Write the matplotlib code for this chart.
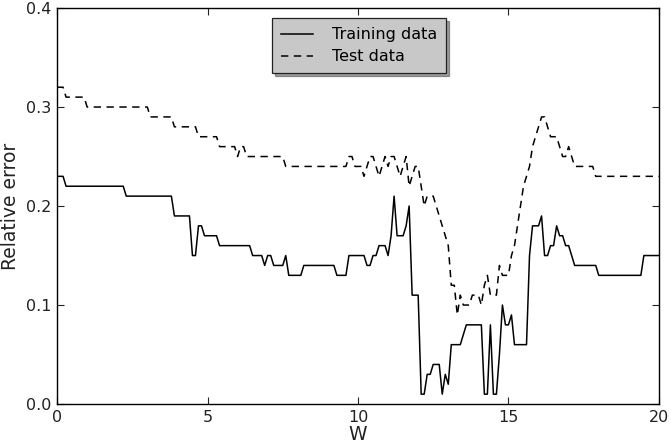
import numpy as np
import matplotlib
matplotlib.use("Agg")
import matplotlib.pyplot as plt

# W from 0 to 20 in steps of 0.1
w_values = np.linspace(0, 20, 201)

# relative error, one row per unit of W (x.0 .. x.9), last value is W = 20
train_error = [
    0.23, 0.23, 0.23, 0.22, 0.22, 0.22, 0.22, 0.22, 0.22, 0.22,
    0.22, 0.22, 0.22, 0.22, 0.22, 0.22, 0.22, 0.22, 0.22, 0.22,
    0.22, 0.22, 0.22, 0.21, 0.21, 0.21, 0.21, 0.21, 0.21, 0.21,
    0.21, 0.21, 0.21, 0.21, 0.21, 0.21, 0.21, 0.21, 0.21, 0.19,
    0.19, 0.19, 0.19, 0.19, 0.19, 0.15, 0.15, 0.18, 0.18, 0.17,
    0.17, 0.17, 0.17, 0.17, 0.16, 0.16, 0.16, 0.16, 0.16, 0.16,
    0.16, 0.16, 0.16, 0.16, 0.16, 0.15, 0.15, 0.15, 0.15, 0.14,
    0.15, 0.15, 0.14, 0.14, 0.14, 0.14, 0.15, 0.13, 0.13, 0.13,
    0.13, 0.13, 0.14, 0.14, 0.14, 0.14, 0.14, 0.14, 0.14, 0.14,
    0.14, 0.14, 0.14, 0.13, 0.13, 0.13, 0.13, 0.15, 0.15, 0.15,
    0.15, 0.15, 0.15, 0.14, 0.14, 0.15, 0.15, 0.16, 0.16, 0.16,
    0.15, 0.17, 0.21, 0.17, 0.17, 0.17, 0.18, 0.20, 0.11, 0.11,
    0.11, 0.01, 0.01, 0.03, 0.03, 0.04, 0.04, 0.04, 0.01, 0.03,
    0.02, 0.06, 0.06, 0.06, 0.06, 0.07, 0.08, 0.08, 0.08, 0.08,
    0.08, 0.08, 0.01, 0.01, 0.08, 0.01, 0.01, 0.05, 0.10, 0.08,
    0.08, 0.09, 0.06, 0.06, 0.06, 0.06, 0.06, 0.15, 0.18, 0.18,
    0.18, 0.19, 0.15, 0.15, 0.16, 0.16, 0.18, 0.17, 0.17, 0.16,
    0.16, 0.15, 0.14, 0.14, 0.14, 0.14, 0.14, 0.14, 0.14, 0.14,
    0.13, 0.13, 0.13, 0.13, 0.13, 0.13, 0.13, 0.13, 0.13, 0.13,
    0.13, 0.13, 0.13, 0.13, 0.13, 0.15, 0.15, 0.15, 0.15, 0.15,
    0.15,
]

test_error = [
    0.32, 0.32, 0.32, 0.31, 0.31, 0.31, 0.31, 0.31, 0.31, 0.31,
    0.30, 0.30, 0.30, 0.30, 0.30, 0.30, 0.30, 0.30, 0.30, 0.30,
    0.30, 0.30, 0.30, 0.30, 0.30, 0.30, 0.30, 0.30, 0.30, 0.30,
    0.30, 0.29, 0.29, 0.29, 0.29, 0.29, 0.29, 0.29, 0.29, 0.28,
    0.28, 0.28, 0.28, 0.28, 0.28, 0.28, 0.28, 0.27, 0.27, 0.27,
    0.27, 0.27, 0.27, 0.27, 0.26, 0.26, 0.26, 0.26, 0.26, 0.26,
    0.25, 0.26, 0.26, 0.25, 0.25, 0.25, 0.25, 0.25, 0.25, 0.25,
    0.25, 0.25, 0.25, 0.25, 0.25, 0.25, 0.24, 0.24, 0.24, 0.24,
    0.24, 0.24, 0.24, 0.24, 0.24, 0.24, 0.24, 0.24, 0.24, 0.24,
    0.24, 0.24, 0.24, 0.24, 0.24, 0.24, 0.24, 0.25, 0.25, 0.24,
    0.24, 0.24, 0.23, 0.24, 0.25, 0.25, 0.24, 0.23, 0.24, 0.25,
    0.24, 0.25, 0.25, 0.24, 0.23, 0.24, 0.25, 0.22, 0.23, 0.24,
    0.24, 0.22, 0.20, 0.21, 0.21, 0.21, 0.20, 0.19, 0.18, 0.17,
    0.16, 0.12, 0.12, 0.09, 0.11, 0.10, 0.10, 0.10, 0.11, 0.11,
    0.11, 0.10, 0.12, 0.13, 0.11, 0.11, 0.11, 0.14, 0.13, 0.13,
    0.13, 0.15, 0.16, 0.18, 0.20, 0.22, 0.23, 0.24, 0.26, 0.27,
    0.28, 0.29, 0.29, 0.28, 0.27, 0.27, 0.27, 0.26, 0.25, 0.25,
    0.26, 0.25, 0.24, 0.24, 0.24, 0.24, 0.24, 0.24, 0.24, 0.23,
    0.23, 0.23, 0.23, 0.23, 0.23, 0.23, 0.23, 0.23, 0.23, 0.23,
    0.23, 0.23, 0.23, 0.23, 0.23, 0.23, 0.23, 0.23, 0.23, 0.23,
    0.23,
]

x_ticks = [0, 5, 10, 15, 20]
y_ticks = [0.0, 0.1, 0.2, 0.3, 0.4]

plt.rcParams["font.family"] = "DejaVu Sans"

fig = plt.figure(figsize=(6.71, 4.45), dpi=100)
ax = fig.add_axes([0.085, 0.092, 0.897, 0.89])

ax.plot(w_values, train_error, color="black", linewidth=1.1,
        label="Training data")
ax.plot(w_values, test_error, color="black", linewidth=1.1,
        dashes=(4.8, 3.6), label="Test data")

ax.set_xlim(0, 20)
ax.set_ylim(0, 0.4)
ax.set_xticks(x_ticks)
ax.set_yticks(y_ticks)
ax.set_yticklabels(["%.1f" % t for t in y_ticks])

ax.tick_params(direction="in", top=True, right=True, length=5,
               width=0.8, labelsize=11.5, colors="#222222", pad=4)
for spine in ax.spines.values():
    spine.set_linewidth(1.0)

ax.set_xlabel("W", fontsize=13.5, labelpad=0, color="#222222")
ax.set_ylabel("Relative error", fontsize=13.5, labelpad=4, color="#222222")

leg = ax.legend(loc="upper center", bbox_to_anchor=(0.502, 0.986),
                fontsize=11.5, shadow=True, fancybox=False,
                framealpha=1, handlelength=2.0, handletextpad=1.2,
                borderpad=0.55, labelspacing=0.45, borderaxespad=0.3)
leg.get_frame().set_facecolor("#c8c8c8")
leg.get_frame().set_edgecolor("#222222")
leg.get_frame().set_linewidth(0.9)

fig.savefig("out.png", dpi=100)
